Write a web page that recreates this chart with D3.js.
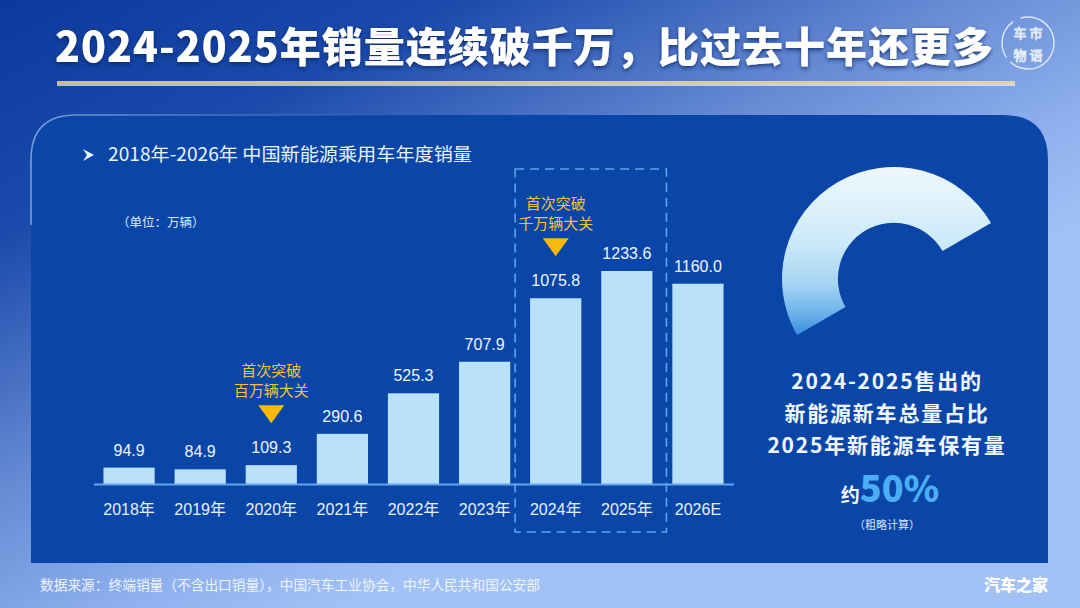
<!DOCTYPE html>
<html>
<head>
<meta charset="utf-8">
<script src="https://cdn.jsdelivr.net/npm/d3@7"></script>
<style>
  body { margin: 0; background: #0c3c9f; }
  svg { display: block; }
  text { font-family: "Noto Sans CJK SC", "Liberation Sans", sans-serif; }
  .num { font-family: "Liberation Sans", "Noto Sans CJK SC", sans-serif; }
</style>
</head>
<body>
<svg id="chart" width="1080" height="608"></svg>
<script>
// data (万辆)
const years = ["2018年", "2019年", "2020年", "2021年", "2022年", "2023年", "2024年", "2025年", "2026E"];
const sales = [94.9, 84.9, 109.3, 290.6, 525.3, 707.9, 1075.8, 1233.6, 1160.0];
const milestoneYears = ["2020年", "2024年"];
const milestoneText = [["首次突破", "百万辆大关"], ["首次突破", "千万辆大关"]];
const highlightYears = ["2024年", "2025年"];
const fleetShare = 0.5;
const shareText = ["2024-2025售出的", "新能源新车总量占比", "2025年新能源车保有量"];

const svg = d3.select("#chart");
const defs = svg.append("defs");

// background gradient
const bg = defs.append("linearGradient").attr("id", "bg")
    .attr("gradientUnits", "userSpaceOnUse")
    .attr("x1", 0).attr("y1", 0).attr("x2", 320).attr("y2", 620);
[[0, "#0b3a9c"], [0.3, "#1a4aab"], [0.62, "#6589d3"], [0.85, "#8eb0ee"], [1, "#a2c1f5"]]
    .forEach(s => bg.append("stop").attr("offset", s[0]).attr("stop-color", s[1]));

const gold = defs.append("linearGradient").attr("id", "gold");
[[0, "#cbbd93"], [0.6, "#d6c8a0"], [1, "#e0d3ad"]]
    .forEach(s => gold.append("stop").attr("offset", s[0]).attr("stop-color", s[1]));

const rim = defs.append("linearGradient").attr("id", "rim")
    .attr("gradientUnits", "userSpaceOnUse")
    .attr("x1", 30).attr("y1", 0).attr("x2", 420).attr("y2", 0);
[[0, "rgba(190,215,255,0.6)"], [1, "rgba(190,215,255,0)"]]
    .forEach(s => rim.append("stop").attr("offset", s[0]).attr("stop-color", s[1]));

// ring gradient, in the ring's own (translated) coordinates
const ring = defs.append("linearGradient").attr("id", "ring")
    .attr("gradientUnits", "userSpaceOnUse")
    .attr("x1", 0).attr("y1", -112).attr("x2", 0).attr("y2", 60);
[[0, "#eff9fd"], [0.45, "#cbe9f9"], [0.68, "#a6d4f3"], [0.85, "#6db3ea"], [1, "#2f86d9"]]
    .forEach(s => ring.append("stop").attr("offset", s[0]).attr("stop-color", s[1]));

const shadow = defs.append("filter").attr("id", "shadow")
    .attr("x", "-5%").attr("y", "-30%").attr("width", "110%").attr("height", "160%");
shadow.append("feDropShadow").attr("dx", 0).attr("dy", 2).attr("stdDeviation", 2.2)
    .attr("flood-color", "#06245f").attr("flood-opacity", 0.75);

svg.append("rect").attr("width", 1080).attr("height", 608).attr("fill", "url(#bg)");

// title
svg.append("text")
    .attr("x", 55).attr("y", 62)
    .attr("textLength", 938).attr("lengthAdjust", "spacing")
    .attr("fill", "#ffffff").attr("font-size", 41).attr("font-weight", 900)
    .attr("filter", "url(#shadow)")
    .text("2024-2025年销量连续破千万，比过去十年还更多");

svg.append("rect").attr("x", 57).attr("y", 81).attr("width", 958).attr("height", 3.5).attr("fill", "url(#gold)");
svg.append("rect").attr("x", 57).attr("y", 84.5).attr("width", 958).attr("height", 1.2).attr("fill", "#f4f6fb");

// logo
const logo = svg.append("g").attr("transform", "translate(1028,43)");
logo.append("circle").attr("r", 26).attr("fill", "none")
    .attr("stroke", "#dfe8f8").attr("stroke-width", 1.4).attr("stroke-dasharray", "60 6 40 8");
[["车", -8, -5], ["市", 8, -5], ["物", -8, 17], ["语", 8, 17]].forEach(c => {
  logo.append("text").attr("x", c[1]).attr("y", c[2]).attr("text-anchor", "middle")
      .attr("font-size", 13).attr("fill", "none").attr("stroke", "#e3ebf9").attr("stroke-width", 0.9)
      .text(c[0]);
});

// panel
const px0 = 31, px1 = 1048, py0 = 115, py1 = 563, pr = 45;
const panelPath = `M${px0},${py1} L${px0},${py0 + pr} Q${px0},${py0} ${px0 + pr},${py0} L${px1 - pr},${py0} Q${px1},${py0} ${px1},${py0 + pr} L${px1},${py1} Z`;
svg.append("path").attr("d", panelPath).attr("fill", "#0a46a8");
svg.append("path")
    .attr("d", `M${px0},${py0 + 110} L${px0},${py0 + pr} Q${px0},${py0} ${px0 + pr},${py0} L${px1 - pr},${py0}`)
    .attr("fill", "none").attr("stroke", "url(#rim)").attr("stroke-width", 1.6);

// subtitle
svg.append("path").attr("d", "M83,149 L94,155 L83,161 L87,155 Z").attr("fill", "#eaf3ff");
svg.append("text").attr("x", 108).attr("y", 161)
    .attr("textLength", 364).attr("lengthAdjust", "spacingAndGlyphs")
    .attr("fill", "#eaf3ff").attr("font-size", 18.5)
    .text("2018年-2026年 中国新能源乘用车年度销量");
svg.append("text").attr("x", 117).attr("y", 227)
    .attr("fill", "#dbe8fb").attr("font-size", 12.5)
    .text("（单位：万辆）");

// scales
const x = d3.scaleBand().domain(years).range([93.5, 733.5]).paddingInner(0.28).paddingOuter(0.14);
const y = d3.scaleLinear().domain([0, 1233.6]).range([484, 271]);
const rows = years.map((d, i) => ({ year: d, value: sales[i] }));

// highlight box
const hx0 = x(highlightYears[0]) - 15;
const hx1 = x(highlightYears[highlightYears.length - 1]) + x.bandwidth() + 14;
svg.append("rect").attr("x", hx0).attr("y", 169).attr("width", hx1 - hx0).attr("height", 363)
    .attr("fill", "none").attr("stroke", "#5fa4ef").attr("stroke-width", 1.6)
    .attr("stroke-dasharray", "9 6");

// bars
svg.append("g").selectAll("rect").data(rows).join("rect")
    .attr("x", d => x(d.year))
    .attr("y", d => y(d.value))
    .attr("width", x.bandwidth())
    .attr("height", d => y(0) - y(d.value))
    .attr("fill", "#bae1fa");

// baseline axis
const axis = svg.append("g").attr("transform", `translate(0,${y(0)})`)
    .call(d3.axisBottom(x).tickSize(0).tickPadding(20));
axis.select(".domain").attr("stroke", "#64a6ee").attr("stroke-width", 2);
axis.selectAll(".tick text")
    .attr("class", "num")
    .attr("fill", "#e6f0ff").attr("font-size", 16);

// value labels
svg.append("g").selectAll("text").data(rows).join("text")
    .attr("class", "num")
    .attr("x", d => x(d.year) + x.bandwidth() / 2)
    .attr("y", d => y(d.value) - 12)
    .attr("text-anchor", "middle")
    .attr("fill", "#eef5ff").attr("font-size", 16)
    .text(d => d3.format(".1f")(d.value));

// milestone markers
milestoneYears.forEach((yr, i) => {
  const cx = x(yr) + x.bandwidth() / 2;
  const top = y(sales[years.indexOf(yr)]) - 42;
  svg.append("path")
      .attr("d", `M${cx - 13},${top - 18} L${cx + 13},${top - 18} L${cx},${top} Z`)
      .attr("fill", "#f7b90a");
  milestoneText[i].forEach((t, j) => {
    svg.append("text")
        .attr("x", cx).attr("y", top - 47 + j * 20)
        .attr("text-anchor", "middle")
        .attr("fill", "#f3c33c").attr("font-size", 15)
        .text(t);
  });
});

// share ring
const start = -120 * Math.PI / 180;
const arc = d3.arc().innerRadius(56).outerRadius(112)
    .startAngle(start).endAngle(start + fleetShare * 2 * Math.PI);
svg.append("path").attr("transform", "translate(894,279)")
    .attr("d", arc()).attr("fill", "url(#ring)");

shareText.forEach((t, i) => {
  svg.append("text")
      .attr("x", 887).attr("y", 389 + i * 32)
      .attr("text-anchor", "middle")
      .attr("fill", "#f2f7ff").attr("font-size", 21).attr("font-weight", 700)
      .attr("letter-spacing", 1.8)
      .text(t);
});
const pct = svg.append("text").attr("x", 890).attr("y", 502).attr("text-anchor", "middle");
pct.append("tspan").attr("fill", "#f2f7ff").attr("font-size", 19).attr("font-weight", 700).text("约");
pct.append("tspan").attr("fill", "#4aaef5").attr("font-size", 36).attr("font-weight", 900)
    .text(d3.format(".0%")(fleetShare));
svg.append("text").attr("x", 887).attr("y", 529).attr("text-anchor", "middle")
    .attr("fill", "#dbe8fb").attr("font-size", 11)
    .text("（粗略计算）");

// footer
svg.append("text").attr("x", 40).attr("y", 590)
    .attr("textLength", 500).attr("lengthAdjust", "spacingAndGlyphs")
    .attr("fill", "#eef4ff").attr("font-size", 14)
    .text("数据来源：终端销量（不含出口销量），中国汽车工业协会，中华人民共和国公安部");
svg.append("text").attr("x", 1048).attr("y", 591).attr("text-anchor", "end")
    .attr("fill", "#ffffff").attr("font-size", 16).attr("font-weight", 900)
    .text("汽车之家");
</script>
</body>
</html>
